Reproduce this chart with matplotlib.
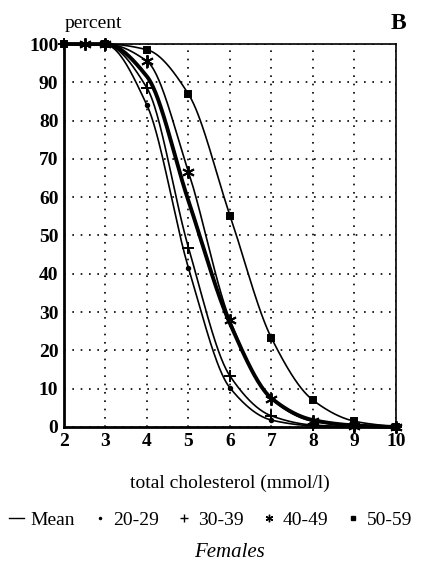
import numpy as np
import matplotlib
matplotlib.use("Agg")
import matplotlib.pyplot as plt
from matplotlib.lines import Line2D

plt.rcParams['font.family'] = ['Liberation Serif', 'DejaVu Serif']

# ---- data ----
x_pts = [2, 3, 4, 5, 6, 7, 8, 9, 10]
mean_vals = [100, 100, 91.5, 59, 27, 7.5, 1.8, 0.4, 0]
g20_vals = [100, 99.8, 84, 41.5, 10.2, 1.8, 0.3, 0.05, 0]
g30_vals = [100, 99.8, 88.5, 46.8, 13.3, 2.9, 0.5, 0.1, 0]
g40_x = [2.5, 3, 4, 5, 6, 7, 8, 9, 10]
g40_vals = [100, 100, 95.5, 66.6, 27.9, 7.3, 1.5, 0.3, 0]
g50_vals = [100, 100, 98.5, 86.9, 55.2, 23.2, 7.0, 1.5, 0]

x_ticks = [2, 3, 4, 5, 6, 7, 8, 9, 10]
y_ticks = [0, 10, 20, 30, 40, 50, 60, 70, 80, 90, 100]
legend_labels = ['Mean', '20-29', '30-39', '40-49', '50-59']


def pchip(x, y, xs):
    x = np.asarray(x, float); y = np.asarray(y, float)
    h = np.diff(x); d = np.diff(y) / h
    n = len(x); m = np.zeros(n)
    for k in range(1, n - 1):
        if d[k - 1] * d[k] > 0:
            w1 = 2 * h[k] + h[k - 1]; w2 = h[k] + 2 * h[k - 1]
            m[k] = (w1 + w2) / (w1 / d[k - 1] + w2 / d[k])
    m[0] = d[0] if d[0] * d[1] > 0 else 0
    m[-1] = d[-1] if d[-1] * d[-2] > 0 else 0
    idx = np.clip(np.searchsorted(x, xs) - 1, 0, n - 2)
    t = (xs - x[idx]) / h[idx]
    h00 = 2 * t**3 - 3 * t**2 + 1; h10 = t**3 - 2 * t**2 + t
    h01 = -2 * t**3 + 3 * t**2; h11 = t**3 - t**2
    return h00 * y[idx] + h10 * h[idx] * m[idx] + h01 * y[idx + 1] + h11 * h[idx] * m[idx + 1]


fig = plt.figure(figsize=(4.21, 5.70), dpi=100)
ax = fig.add_axes([0.152, 0.2509, 0.7886, 0.6719])

dot = (0, (1, 4))
ax.set_xlim(2, 10)
ax.set_ylim(0, 100)
ax.set_xticks(x_ticks)
ax.set_yticks(y_ticks)
ax.grid(True, color='black', linestyle=dot, linewidth=1.2)
ax.tick_params(length=0, labelsize=14, pad=4)
for lab in ax.get_xticklabels() + ax.get_yticklabels():
    lab.set_fontweight('bold')
for s in ax.spines.values():
    s.set_linewidth(1.2)
ax.spines['left'].set_linewidth(2.0)
ax.spines['bottom'].set_linewidth(2.0)

asterisk = (6, 2, 0)
series = [
    (x_pts, mean_vals, None, 2.8, 0),
    (x_pts, g20_vals, 'o', 1.2, 2.5),
    (x_pts, g30_vals, '+', 1.2, 9),
    (g40_x, g40_vals, asterisk, 1.2, 9),
    (x_pts, g50_vals, 's', 1.2, 5),
]
handles = []
for xs_, ys_, mk, lw, ms in series:
    xx = np.linspace(xs_[0], xs_[-1], 400)
    ax.plot(xx, pchip(xs_, ys_, xx), color='black', lw=lw, clip_on=False, zorder=3)
    if mk:
        ax.plot(xs_, ys_, linestyle='none', marker=mk, color='black', ms=ms,
                mew=1.4, clip_on=False, zorder=4)
        handles.append(Line2D([], [], linestyle='none', marker=mk, color='black',
                              ms=ms * 0.6, mew=1.0))
    else:
        handles.append(Line2D([], [], color='black', lw=1.0))

fig.text(0.154, 0.958, 'percent', fontsize=14, ha='left', va='center')
fig.text(0.965, 0.958, 'B', fontsize=17, fontweight='bold', ha='right', va='center')
fig.text(0.545, 0.152, 'total cholesterol (mmol/l)', fontsize=14, ha='center', va='center')
fig.text(0.545, 0.030, 'Females', fontsize=15, style='italic', ha='center', va='center')

fig.legend(handles, legend_labels, loc='center', bbox_to_anchor=(0.5, 0.088), ncol=5,
           frameon=False, fontsize=14, handlelength=0.8, handletextpad=0.3,
           columnspacing=0.9, borderpad=0)

fig.savefig('out.png', dpi=100)
